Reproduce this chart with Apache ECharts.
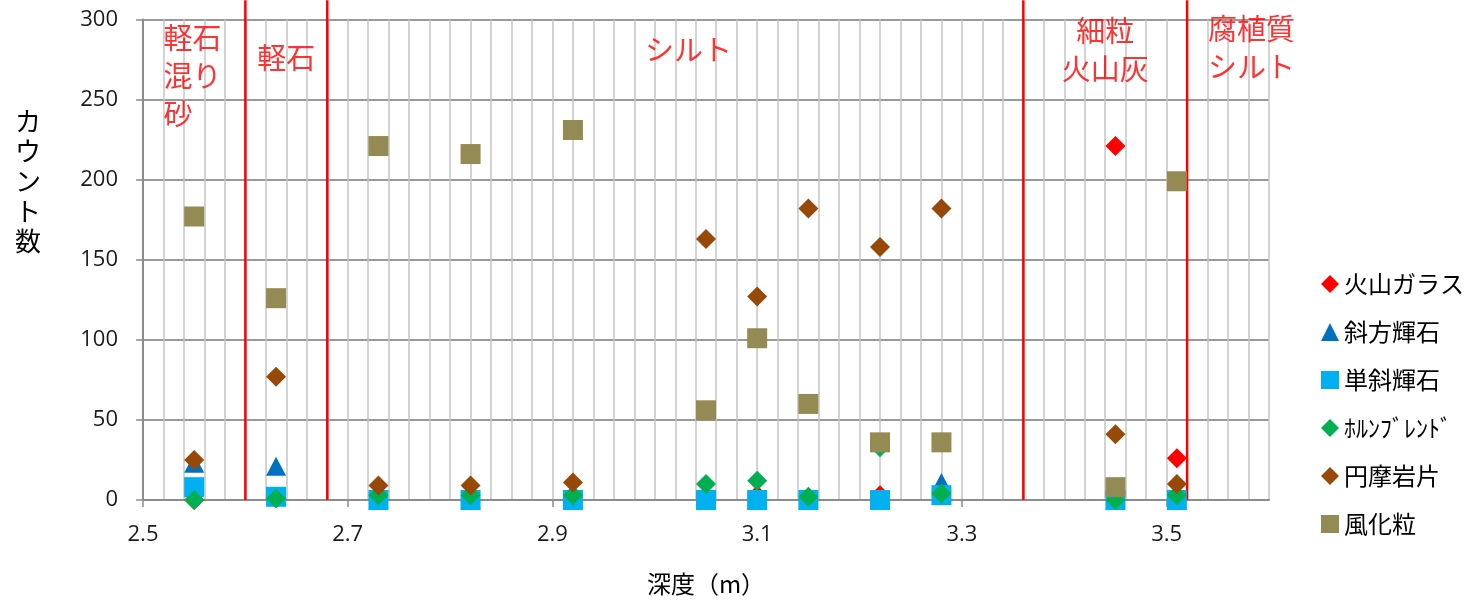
<!DOCTYPE html>
<html>
<head>
<meta charset="utf-8">
<script src="https://cdn.jsdelivr.net/npm/echarts@6/dist/echarts.min.js"></script>
<style>
html,body{margin:0;padding:0;background:#fff;}
#chart{width:1465px;height:601px;}
</style>
</head>
<body>
<div id="chart"></div>
<script>
// ---- data ----
const depths = [2.55, 2.63, 2.73, 2.82, 2.92, 3.05, 3.10, 3.15, 3.22, 3.28, 3.45, 3.51];
const volcanicGlass   = [0, 2, 0, 0, 0, 0, 3, 0, 3, 3, 221, 26];
const orthopyroxene   = [23, 21, 0, 0, 0, 0, 0, 0, 0, 11, 0, 0];
const clinopyroxene   = [8, 2, 0, 0, 0, 0, 0, 0, 0, 3, 0, 0];
const hornblende      = [0, 1, 3, 3, 3, 10, 12, 2, 33, 4, 0, 3];
const lithicFragments = [25, 77, 9, 9, 11, 163, 127, 182, 158, 182, 41, 10];
const weatheredGrains = [177, 126, 221, 216, 231, 56, 101, 60, 36, 36, 8, 199];

const seriesNames = ['火山ガラス', '斜方輝石', '単斜輝石', 'ﾎﾙﾝﾌﾞﾚﾝﾄﾞ', '円摩岩片', '風化粒'];
const xTickLabels = [2.5, 2.7, 2.9, 3.1, 3.3, 3.5];
const yTickLabels = [0, 50, 100, 150, 200, 250, 300];

const zoneBoundaries = [2.60, 2.68, 3.36, 3.52];
const zoneNames = ['軽石\n混り\n砂', '軽石', 'シルト', '細粒\n火山灰', '腐植質\nシルト'];
const zoneLabelX = [2.52, 2.64, 3.033, 3.44, 3.583];
const zoneLabelY = [265, 276, 281, 281, 282];

// ---- styling ----
const jp = '"Noto Sans CJK JP", "Noto Sans", sans-serif';
const numFont = '"Open Sans", "Noto Sans", sans-serif';
const colors = ['#FF0000', '#0070C0', '#00B0F0', '#00B050', '#984807', '#948A54'];
const symbols = ['diamond', 'triangle', 'rect', 'diamond', 'diamond', 'rect'];
const seriesData = [volcanicGlass, orthopyroxene, clinopyroxene, hornblende, lithicFragments, weatheredGrains];

const chart = echarts.init(document.getElementById('chart'), null, {renderer: 'canvas'});

const series = [];
zoneBoundaries.forEach((b, i) => {
  series.push({
    name: 'boundary' + i,
    type: 'line',
    xAxisIndex: 0, yAxisIndex: 0,
    data: [[b, 0], [b, 312]],
    symbol: 'none',
    clip: false,
    silent: true,
    lineStyle: {color: '#FF0000', width: 2.5},
    z: 2
  });
});
seriesNames.forEach((n, i) => {
  series.push({
    name: n,
    type: 'scatter',
    xAxisIndex: 0, yAxisIndex: 0,
    symbol: symbols[i],
    symbolSize: symbols[i] === 'rect' ? 20 : (symbols[i] === 'triangle' ? [20, 19] : 20),
    itemStyle: {color: colors[i], opacity: 1},
    data: depths.map((d, k) => [d, seriesData[i][k]]),
    z: 3
  });
});
series.push({
  name: 'zones',
  type: 'scatter',
  xAxisIndex: 0, yAxisIndex: 0,
  symbolSize: 0,
  clip: false,
  silent: true,
  data: zoneNames.map((t, i) => ({
    value: [zoneLabelX[i], zoneLabelY[i]],
    name: t,
    label: {align: i === 0 ? 'left' : 'center'}
  })),
  label: {
    show: true,
    position: 'inside',
    formatter: p => p.name,
    color: '#FF0000',
    fontFamily: jp,
    fontSize: 29,
    lineHeight: 38,
    verticalAlign: 'middle'
  },
  z: 4
});

const option = {
  backgroundColor: '#ffffff',
  animation: false,
  title: [{
    text: 'カ\nウ\nン\nト\n数',
    left: 28,
    top: 106,
    textAlign: 'center',
    padding: 0,
    textStyle: {fontFamily: jp, fontSize: 26, lineHeight: 30, fontWeight: 'normal', color: '#000', align: 'center'}
  }],
  legend: {
    orient: 'vertical',
    left: 1321,
    top: 272,
    data: seriesNames,
    itemWidth: 18,
    itemHeight: 18,
    itemGap: 24,
    textStyle: {fontFamily: jp, fontSize: 24, lineHeight: 24, color: '#000'},
    padding: 0
  },
  grid: {left: 143, right: 196, top: 19.5, bottom: 101, containLabel: false},
  xAxis: [{
    type: 'value',
    min: 2.5, max: 3.6, interval: 0.2,
    position: 'bottom',
    name: '深度（m）',
    nameLocation: 'middle',
    nameGap: 72,
    nameTextStyle: {fontFamily: jp, fontSize: 24, color: '#000'},
    axisLine: {show: true, onZero: false, lineStyle: {color: '#8c8c8c', width: 2}},
    axisTick: {show: true, inside: false, length: 7, lineStyle: {color: '#8c8c8c', width: 1.5}, customValues: xTickLabels},
    axisLabel: {show: true, margin: 24, fontFamily: numFont, fontSize: 22, color: '#1a1a1a',
      customValues: xTickLabels, formatter: v => (Math.round(v * 10) / 10).toFixed(1)},
    splitLine: {show: false},
    z: 1
  }, {
    type: 'value',
    min: 2.5, max: 3.6, interval: 0.02,
    position: 'bottom',
    axisLine: {show: false},
    axisTick: {show: false},
    axisLabel: {show: false},
    splitLine: {show: true, lineStyle: {color: '#c4c4c4', width: 1.5}},
    z: 0
  }],
  yAxis: [{
    type: 'value',
    min: 0, max: 300, interval: 50,
    axisLine: {show: true, lineStyle: {color: '#8c8c8c', width: 2}},
    axisTick: {show: true, inside: false, length: 7, lineStyle: {color: '#8c8c8c', width: 1.5}},
    axisLabel: {show: true, margin: 25, fontFamily: numFont, fontSize: 22, color: '#1a1a1a',
      formatter: v => (yTickLabels.indexOf(v) >= 0 ? String(v) : '')},
    splitLine: {show: true, lineStyle: {color: '#999999', width: 2}}
  }],
  series: series
};
chart.setOption(option);
</script>
</body>
</html>
